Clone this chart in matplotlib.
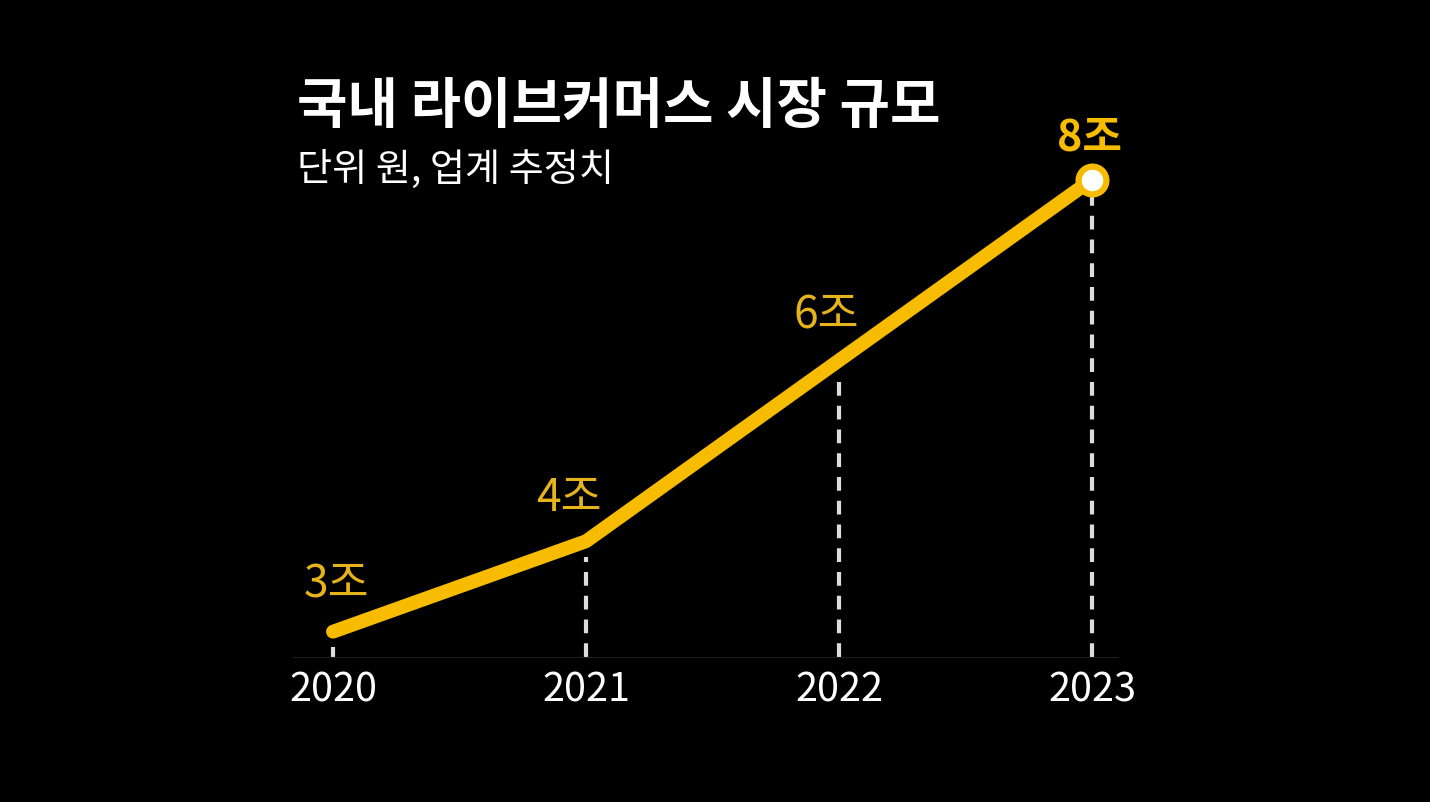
import matplotlib.pyplot as plt

plt.rcParams['font.family'] = ['Noto Sans CJK KR', 'DejaVu Sans']

years = [2020, 2021, 2022, 2023]
market_size = [3, 4, 6, 8]  # 조 원
labels = ['3조', '4조', '6조', '8조']
title = '국내 라이브커머스 시장 규모'
subtitle = '단위 원, 업계 추정치'

YELLOW = '#F7BC00'
LABEL_YELLOW = '#E6B31A'
W, H = 1430, 802

fig = plt.figure(figsize=(W / 100, H / 100), dpi=100, facecolor='black')
ax = fig.add_axes([293 / W, (H - 657) / H, 824 / W, 557 / H])
ax.set_facecolor('black')

ymin = 2.72
# dashed drop lines from each point to the baseline
for x, v in zip(years, market_size):
    ax.plot([x, x], [ymin, v - 0.17], color='#dcdcdc', lw=3,
            linestyle=(0, (3.3, 2.4)), zorder=1, solid_capstyle='butt')

ax.plot(years, market_size, color=YELLOW, lw=10, solid_capstyle='round',
        solid_joinstyle='round', zorder=3)
ax.plot(years[-1], market_size[-1], 'o', ms=20, mfc='white', mec=YELLOW,
        mew=4.5, zorder=4)

offsets = [(3, 47), (-17, 43), (-13, 45), (-3, 42)]
for i, (x, v, lab) in enumerate(zip(years, market_size, labels)):
    last = i == len(years) - 1
    ax.annotate(lab, (x, v), xytext=offsets[i], textcoords='offset pixels',
                ha='center', va='center', fontsize=31 if last else 32,
                color=YELLOW if last else LABEL_YELLOW,
                fontweight='bold' if last else 'light')

ax.set_xlim(2020 - 40 / 253, 2023 + 25 / 253)
ax.set_ylim(ymin, 8.88)
ax.set_xticks(years)
ax.set_xticklabels([str(y) for y in years])
ax.tick_params(axis='x', length=0, pad=10, labelsize=28.5, colors='white')
for lab in ax.get_xticklabels():
    lab.set_fontweight('light')
ax.set_yticks([])
for side in ['top', 'left', 'right']:
    ax.spines[side].set_visible(False)
ax.spines['bottom'].set_color('#1c1c1c')
ax.spines['bottom'].set_linewidth(0.8)

fig.text(297 / W, 1 - 107 / H, title, color='white', fontsize=39.5,
         fontweight='bold', ha='left', va='center')
fig.text(297 / W, 1 - 170 / H, subtitle, color='white', fontsize=27.5,
         fontweight='light', ha='left', va='center')

fig.savefig('out.png', dpi=100, facecolor='black')
